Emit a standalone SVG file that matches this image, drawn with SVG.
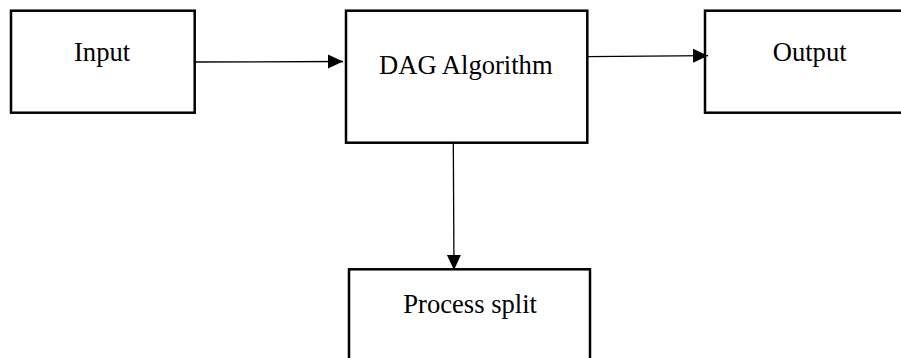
<svg xmlns="http://www.w3.org/2000/svg" width="901" height="358" viewBox="0 0 901 358">
<defs>
<style>
.box{fill:#fff;stroke:#000;stroke-width:2.5}
.lbl{font-family:"Liberation Serif","Times New Roman",serif;font-size:26.6px;fill:#000}
.edge{stroke:#000;stroke-width:1.3;fill:none}
</style>
<marker id="arr" markerUnits="userSpaceOnUse" markerWidth="16" markerHeight="16" viewBox="0 0 16 16" refX="15" refY="8" orient="auto">
<path d="M0,1 L15,8 L0,15 Z" fill="#000"/>
</marker>
</defs>
<rect width="901" height="358" fill="#fff"/>
<g id="input">
<rect class="box" x="11" y="10.7" width="183.7" height="102"/>
<text class="lbl" x="74" y="60.7">Input</text>
</g>
<g id="dag">
<rect class="box" x="346" y="10.7" width="241.3" height="132"/>
<text class="lbl" x="379" y="74">DAG Algorithm</text>
</g>
<g id="output">
<rect class="box" x="705" y="10.7" width="210" height="102"/>
<text class="lbl" x="772.7" y="60.7">Output</text>
</g>
<g id="process">
<rect class="box" x="349" y="269.3" width="241" height="110"/>
<text class="lbl" x="403.3" y="313.3">Process split</text>
</g>
<g id="connectors">
<line class="edge" x1="195" y1="62" x2="343" y2="61.5" marker-end="url(#arr)"/>
<line class="edge" x1="588" y1="56.7" x2="708" y2="55.7" marker-end="url(#arr)"/>
<line class="edge" x1="453.3" y1="143" x2="454" y2="270" marker-end="url(#arr)"/>
</g>
</svg>
